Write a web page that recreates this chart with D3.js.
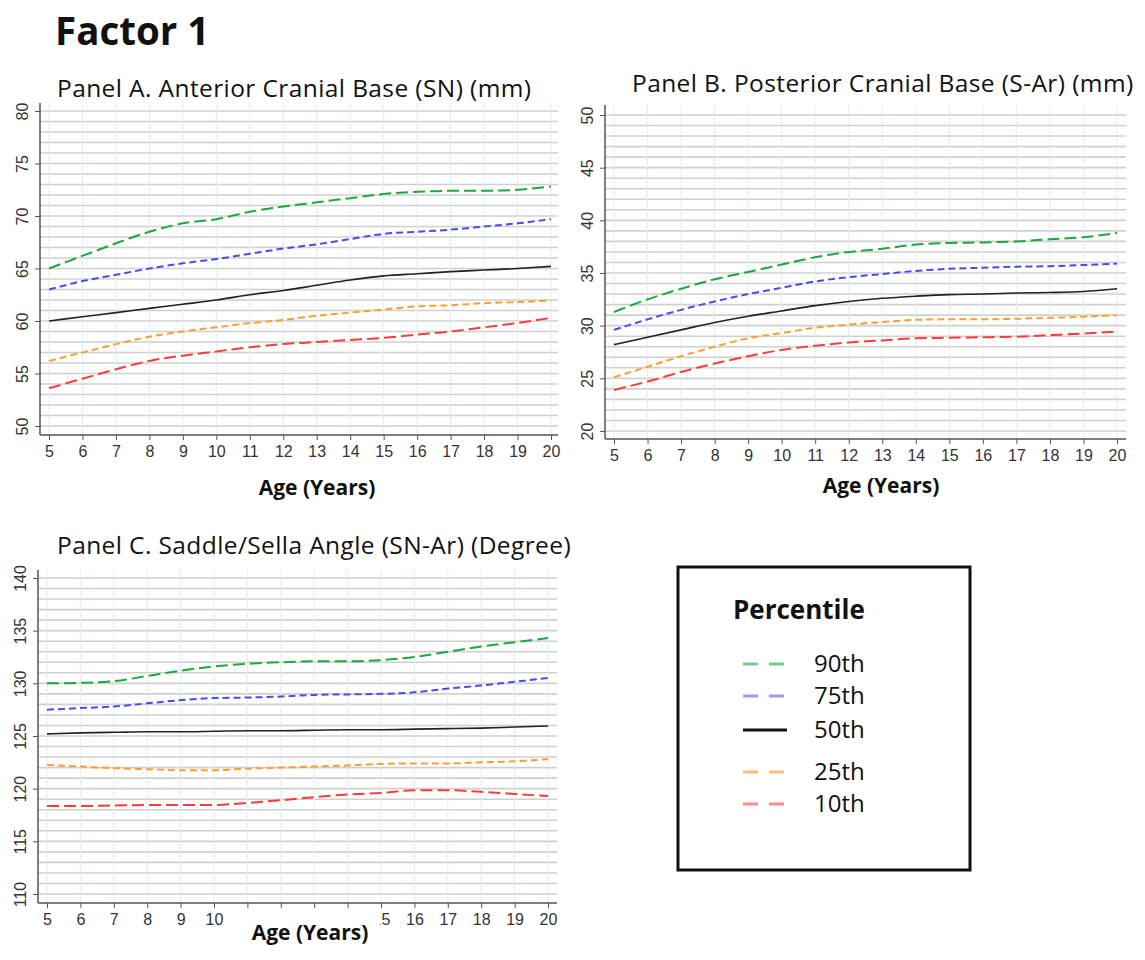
<!DOCTYPE html>
<html>
<head>
<meta charset="utf-8">
<script src="https://d3js.org/d3.v7.min.js"></script>
<style>
    body { margin: 0; background: #fff; }
    .ttl { font-family: "Open Sans", Lato, sans-serif; fill: #111; }
    .tick text { font-family: "Liberation Sans", Arial, sans-serif; font-size: 16px; fill: #333; }
    .hgrid { stroke: #cdd0d0; stroke-width: 1.6px; }
    .vgrid { stroke: #e0edf0; stroke-width: 1px; }
</style>
</head>
<body>
<svg id="chart" width="1145" height="960"></svg>
<script>
// ages on the x axis
const ages = [5, 6, 7, 8, 9, 10, 11, 12, 13, 14, 15, 16, 17, 18, 19, 20];
const percentiles = ["90th", "75th", "50th", "25th", "10th"];

// Panel A: anterior cranial base (SN) mm
const snP90 = [65.0, 66.2, 67.4, 68.5, 69.3, 69.7, 70.4, 70.9, 71.3, 71.7, 72.1, 72.3, 72.4, 72.4, 72.5, 72.8];
const snP75 = [63.0, 63.8, 64.4, 65.0, 65.5, 65.9, 66.4, 66.9, 67.3, 67.8, 68.3, 68.5, 68.7, 69.0, 69.3, 69.7];
const snP50 = [60.0, 60.4, 60.8, 61.2, 61.6, 62.0, 62.5, 62.9, 63.4, 63.9, 64.3, 64.5, 64.7, 64.85, 65.0, 65.2];
const snP25 = [56.2, 57.0, 57.8, 58.5, 59.0, 59.4, 59.8, 60.1, 60.5, 60.8, 61.1, 61.4, 61.5, 61.7, 61.8, 61.95];
const snP10 = [53.6, 54.5, 55.4, 56.2, 56.7, 57.1, 57.5, 57.8, 58.0, 58.2, 58.4, 58.7, 59.0, 59.4, 59.8, 60.3];

// Panel B: posterior cranial base (S-Ar) mm
const sarP90 = [31.3, 32.5, 33.5, 34.4, 35.1, 35.8, 36.5, 37.0, 37.3, 37.7, 37.85, 37.9, 38.0, 38.2, 38.4, 38.8];
const sarP75 = [29.6, 30.6, 31.5, 32.3, 33.0, 33.6, 34.2, 34.6, 34.9, 35.2, 35.4, 35.5, 35.6, 35.65, 35.75, 35.9];
const sarP50 = [28.2, 28.9, 29.6, 30.3, 30.9, 31.4, 31.9, 32.3, 32.6, 32.8, 32.95, 33.0, 33.1, 33.15, 33.25, 33.5];
const sarP25 = [25.1, 26.1, 27.1, 28.0, 28.8, 29.3, 29.8, 30.1, 30.35, 30.55, 30.6, 30.6, 30.65, 30.75, 30.85, 31.0];
const sarP10 = [23.9, 24.7, 25.6, 26.4, 27.1, 27.7, 28.1, 28.4, 28.6, 28.8, 28.85, 28.9, 28.95, 29.1, 29.25, 29.45];

// Panel C: saddle/sella angle (SN-Ar) degree
const angP90 = [130.0, 130.05, 130.2, 130.7, 131.2, 131.6, 131.85, 132.0, 132.1, 132.1, 132.2, 132.5, 133.0, 133.5, 133.9, 134.3];
const angP75 = [127.5, 127.65, 127.8, 128.1, 128.4, 128.6, 128.65, 128.75, 128.9, 128.95, 129.0, 129.15, 129.5, 129.8, 130.15, 130.5];
const angP50 = [125.2, 125.3, 125.35, 125.4, 125.4, 125.45, 125.5, 125.5, 125.55, 125.6, 125.6, 125.65, 125.7, 125.75, 125.85, 125.95];
const angP25 = [122.25, 122.1, 121.95, 121.85, 121.75, 121.75, 121.9, 122.0, 122.1, 122.2, 122.35, 122.4, 122.4, 122.5, 122.6, 122.8];
const angP10 = [118.35, 118.35, 118.4, 118.45, 118.45, 118.45, 118.65, 118.9, 119.2, 119.45, 119.6, 119.85, 119.85, 119.7, 119.5, 119.3];

const yTicksA = [50, 55, 60, 65, 70, 75, 80];
const yTicksB = [20, 25, 30, 35, 40, 45, 50];
const yTicksC = [110, 115, 120, 125, 130, 135, 140];
// in panel C the ages 11-14 are covered by the axis title
const hiddenC = [11, 12, 13, 14];

// line styles per percentile
const colors = { "90th": "#1ea83c", "75th": "#4a4af5", "50th": "#222", "25th": "#ff9d2e", "10th": "#ff3a3a" };
const legendColors = { "90th": "#6ccd8a", "75th": "#9999ff", "50th": "#111", "25th": "#ffbb78", "10th": "#ff8c8c" };
const dashes = { "90th": "12,5", "75th": "7,4", "50th": null, "25th": "7,4", "10th": "12,5" };

const svg = d3.select("#chart");

svg.append("text").attr("class", "ttl")
    .attr("x", 55).attr("y", 45)
    .style("font-size", "38.5px").style("font-weight", "bold")
    .text("Factor 1");

function drawPanel(cfg) {
    const x = d3.scaleLinear().domain([5, 20]).range([cfg.x0, cfg.x1]);
    const y = d3.scaleLinear().domain(cfg.yDom).range([cfg.yb, cfg.yt]);
    const g = svg.append("g");

    // horizontal gridlines every 1 unit
    g.selectAll("line.hgrid").data(d3.range(cfg.yDom[0], cfg.yDom[1] + 1))
        .join("line").attr("class", "hgrid")
        .attr("x1", cfg.axisX).attr("x2", cfg.right)
        .attr("y1", d => y(d)).attr("y2", d => y(d));

    // vertical gridlines at each age
    g.selectAll("line.vgrid").data(ages)
        .join("line").attr("class", "vgrid")
        .attr("x1", d => x(d)).attr("x2", d => x(d))
        .attr("y1", cfg.top).attr("y2", cfg.bottom);

    // y axis
    const yAxis = g.append("g").attr("transform", "translate(" + cfg.axisX + ",0)")
        .call(d3.axisLeft(y).tickValues(cfg.yTicks).tickSize(5).tickPadding(4));
    yAxis.select(".domain").remove();
    yAxis.selectAll(".tick line").attr("stroke", "#555");
    yAxis.selectAll(".tick text")
        .attr("transform", "rotate(-90)")
        .attr("x", 0).attr("y", -18)
        .attr("dy", "0.35em")
        .style("text-anchor", "middle");
    g.append("line").attr("x1", cfg.axisX).attr("x2", cfg.axisX)
        .attr("y1", cfg.top).attr("y2", cfg.bottom)
        .attr("stroke", "#555").attr("stroke-width", 1.5);

    // x axis
    const hidden = cfg.hidden || [];
    const xAxis = g.append("g").attr("transform", "translate(0," + cfg.bottom + ")")
        .call(d3.axisBottom(x).tickValues(ages).tickSize(5).tickPadding(6)
            .tickFormat(d => hidden.includes(d) ? "" : d3.format("d")(d)));
    xAxis.select(".domain").remove();
    xAxis.selectAll(".tick line").attr("stroke", "#555");
    g.append("line").attr("x1", cfg.axisX).attr("x2", cfg.right)
        .attr("y1", cfg.bottom).attr("y2", cfg.bottom)
        .attr("stroke", "#555").attr("stroke-width", 1.5);

    // percentile curves
    const line = d3.line().x((d, i) => x(ages[i])).y(d => y(d)).curve(d3.curveMonotoneX);
    percentiles.forEach((p, k) => {
        g.append("path").datum(cfg.series[k])
            .attr("fill", "none")
            .attr("stroke", colors[p])
            .attr("stroke-width", p === "50th" ? 1.6 : 2)
            .attr("stroke-dasharray", dashes[p])
            .attr("d", line);
    });

    // panel title
    svg.append("text").attr("class", "ttl")
        .attr("x", cfg.titleX).attr("y", cfg.titleY)
        .style("font-size", "24.5px").style("letter-spacing", "0.4px")
        .text(cfg.title);

    // x axis title (white box behind it as in the source)
    if (cfg.mask) {
        svg.append("rect").attr("x", cfg.mask[0]).attr("y", cfg.mask[1])
            .attr("width", cfg.mask[2]).attr("height", cfg.mask[3]).attr("fill", "#fff");
    }
    svg.append("text").attr("class", "ttl")
        .attr("x", cfg.xtX).attr("y", cfg.xtY)
        .attr("text-anchor", "middle")
        .style("font-size", "21px").style("font-weight", "bold")
        .text("Age (Years)");
}

drawPanel({
    x0: 49, x1: 551, yDom: [50, 80], yb: 426, yt: 111,
    axisX: 40, right: 558, top: 103, bottom: 435,
    yTicks: yTicksA, series: [snP90, snP75, snP50, snP25, snP10],
    title: "Panel A. Anterior Cranial Base (SN) (mm)", titleX: 57, titleY: 97,
    xtX: 317, xtY: 495
});

drawPanel({
    x0: 614, x1: 1117, yDom: [20, 50], yb: 431, yt: 115,
    axisX: 605, right: 1126, top: 105, bottom: 439,
    yTicks: yTicksB, series: [sarP90, sarP75, sarP50, sarP25, sarP10],
    title: "Panel B. Posterior Cranial Base (S-Ar) (mm)", titleX: 632, titleY: 92,
    xtX: 881, xtY: 493
});

drawPanel({
    x0: 47, x1: 548, yDom: [110, 140], yb: 894, yt: 578,
    axisX: 38, right: 557, top: 570, bottom: 903,
    yTicks: yTicksC, series: [angP90, angP75, angP50, angP25, angP10],
    title: "Panel C. Saddle/Sella Angle (SN-Ar) (Degree)", titleX: 57, titleY: 554,
    xtX: 310, xtY: 940, mask: [238, 910, 142, 40], hidden: hiddenC
});

// legend
const legendPos = [664, 696, 730, 772, 804];
const lg = svg.append("g");
lg.append("rect").attr("x", 678).attr("y", 567).attr("width", 292).attr("height", 303)
    .attr("fill", "#fff").attr("stroke", "#111").attr("stroke-width", 3);
lg.append("text").attr("class", "ttl")
    .attr("x", 733).attr("y", 619)
    .style("font-size", "26px").style("font-weight", "bold")
    .text("Percentile");
const legendRows = lg.selectAll("g.row").data(percentiles).join("g").attr("class", "row");
legendRows.append("line")
    .attr("x1", 743).attr("x2", 787)
    .attr("y1", (d, i) => legendPos[i]).attr("y2", (d, i) => legendPos[i])
    .attr("stroke", d => legendColors[d])
    .attr("stroke-width", 3)
    .attr("stroke-dasharray", d => d === "50th" ? null : "15,11");
legendRows.append("text").attr("class", "ttl")
    .attr("x", 814).attr("y", (d, i) => legendPos[i])
    .attr("dy", "0.35em")
    .style("font-size", "24px")
    .text(d => d);
</script>
</body>
</html>
